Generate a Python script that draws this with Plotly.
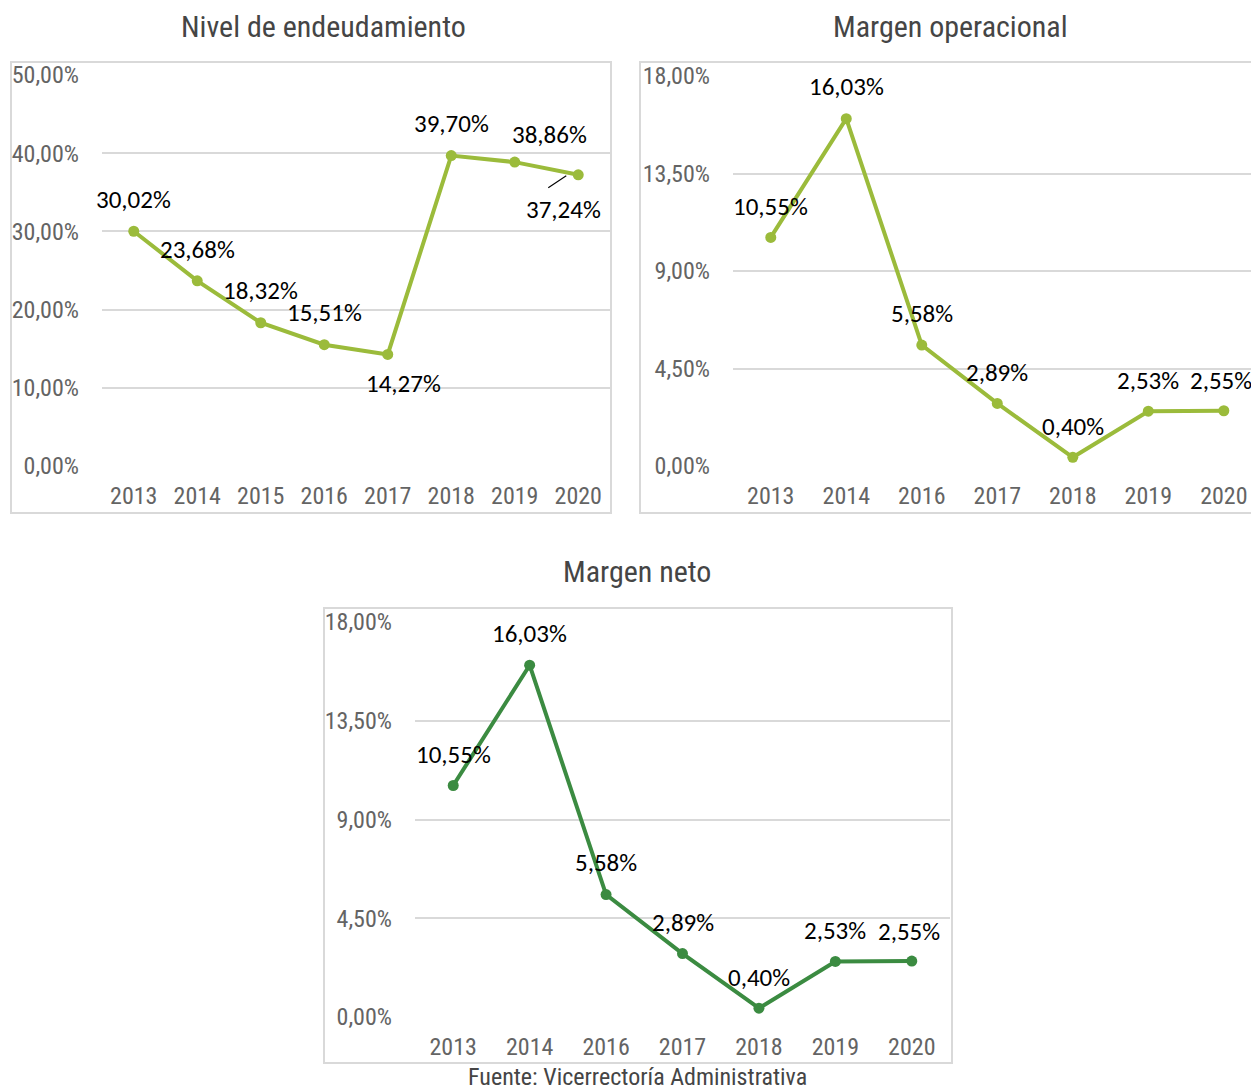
import plotly.graph_objects as go

# ========== Data ==========
years_deuda = ["2013", "2014", "2015", "2016", "2017", "2018", "2019", "2020"]
nivel_endeudamiento = [30.02, 23.68, 18.32, 15.51, 14.27, 39.70, 38.86, 37.24]

years_margen = ["2013", "2014", "2016", "2017", "2018", "2019", "2020"]
margen_operacional = [10.55, 16.03, 5.58, 2.89, 0.40, 2.53, 2.55]
margen_neto = [10.55, 16.03, 5.58, 2.89, 0.40, 2.53, 2.55]

titles = ["Nivel de endeudamiento", "Margen operacional", "Margen neto"]
fuente = "Fuente: Vicerrectoría Administrativa"

# label offsets (px) per point: (xshift, yshift)
offs_deuda = [(0, 32), (0, 31), (0, 32), (0, 32), (16, -29), (0, 32), (35, 28), (-15, -35)]
offs_margen = [(0, 31), (0, 32), (0, 32), (0, 31), (0, 31), (0, 31), (-3, 30)]

W, H = 1251, 1091
LIGHT_GREEN = "#9BBB3B"
DARK_GREEN = "#3B8B41"
GRID = "#D9D9D9"
TICK_FONT = "Arial Narrow, Liberation Sans Narrow, Roboto Condensed, Arial, sans-serif"
LABEL_FONT = "Calibri, Carlito, Lato, sans-serif"


def fmt(v):
    return f"{v:.2f}%".replace(".", ",")


def px_x(p):
    return p / W


def px_y(p):
    return 1 - p / H


fig = go.Figure()

panels = [
    dict(x=years_deuda, y=nivel_endeudamiento, color=LIGHT_GREEN, xa="x", ya="y",
         xdom=(102, 610), ydom=(466, 75), xr=[-0.5, 7.5], yr=[0, 50], dt=10,
         offs=offs_deuda),
    dict(x=years_margen, y=margen_operacional, color=LIGHT_GREEN, xa="x2", ya="y2",
         xdom=(733, 1251), ydom=(466, 76), xr=[-0.5, 6.36], yr=[0, 18], dt=4.5,
         offs=offs_margen),
    dict(x=years_margen, y=margen_neto, color=DARK_GREEN, xa="x3", ya="y3",
         xdom=(415, 950), ydom=(1017, 622), xr=[-0.5, 6.5], yr=[0, 18], dt=4.5,
         offs=offs_margen),
]

annotations = []
for i, p in enumerate(panels):
    fig.add_trace(go.Scatter(
        x=p["x"], y=p["y"], mode="lines+markers",
        line=dict(color=p["color"], width=4),
        marker=dict(color=p["color"], size=11),
        xaxis=p["xa"], yaxis=p["ya"], cliponaxis=False, showlegend=False,
        hoverinfo="skip"))

    # category index used for annotation position
    for j, yv in enumerate(p["y"]):
        o = p["offs"][j]
        annotations.append(dict(
            x=j, y=yv, xref=p["xa"], yref=p["ya"], text=fmt(yv),
            showarrow=False, xshift=o[0], yshift=o[1],
            font=dict(family=LABEL_FONT, size=25, color="black")))

    suffix = "" if i == 0 else str(i + 1)
    fig.layout["xaxis" + suffix] = dict(
        domain=[px_x(p["xdom"][0]), px_x(p["xdom"][1])], anchor=p["ya"],
        type="category", range=p["xr"], showgrid=False, zeroline=False,
        showline=False, ticks="", ticklabelstandoff=13, automargin=False,
        tickfont=dict(family=TICK_FONT, size=24, color="#646464"))
    fig.layout["yaxis" + suffix] = dict(
        domain=[px_y(p["ydom"][0]), px_y(p["ydom"][1])], anchor=p["xa"],
        range=p["yr"], dtick=p["dt"], tick0=0, tickformat=".2f", ticksuffix="%",
        showgrid=True, gridcolor=GRID, gridwidth=2, zeroline=False,
        showline=False, ticks="", ticklabelstandoff=22, automargin=False,
        tickfont=dict(family=TICK_FONT, size=24, color="#646464"))

# titles and source
title_pos = [(323, 27), (950, 27), (637, 571)]
for t, (tx, ty) in zip(titles, title_pos):
    annotations.append(dict(
        x=px_x(tx), y=px_y(ty), xref="paper", yref="paper", text=t,
        showarrow=False, xanchor="center", yanchor="middle",
        font=dict(family=TICK_FONT, size=30, color="#454545")))
annotations.append(dict(
    x=px_x(637), y=px_y(1077), xref="paper", yref="paper", text=fuente,
    showarrow=False, xanchor="center", yanchor="middle",
    font=dict(family=TICK_FONT, size=24, color="#454545")))

# chart borders
boxes = [(11, 62, 611, 513), (640, 62, 1262, 513), (324, 608, 952, 1063)]
shapes = [dict(type="rect", xref="paper", yref="paper",
               x0=px_x(b[0]), x1=px_x(b[2]), y0=px_y(b[3]), y1=px_y(b[1]),
               line=dict(color=GRID, width=2), layer="below")
          for b in boxes]

# leader line for the last label of the first chart
last = len(nivel_endeudamiento) - 1
shapes.append(dict(
    type="line", xref="x", yref="y",
    xsizemode="pixel", ysizemode="pixel",
    xanchor=last, yanchor=nivel_endeudamiento[last],
    x0=-30, x1=-12, y0=-13, y1=-1,
    line=dict(color="black", width=1.2)))

fig.update_layout(
    width=W, height=H, margin=dict(l=0, r=0, t=0, b=0, autoexpand=False),
    paper_bgcolor="white", plot_bgcolor="white",
    separators=",.", annotations=annotations, shapes=shapes,
    showlegend=False, hovermode=False)

# drop the default 8px body margin so the figure fills the window
fig.write_html("out.html", config={"displayModeBar": False},
               post_script="document.body.style.margin='0';")
